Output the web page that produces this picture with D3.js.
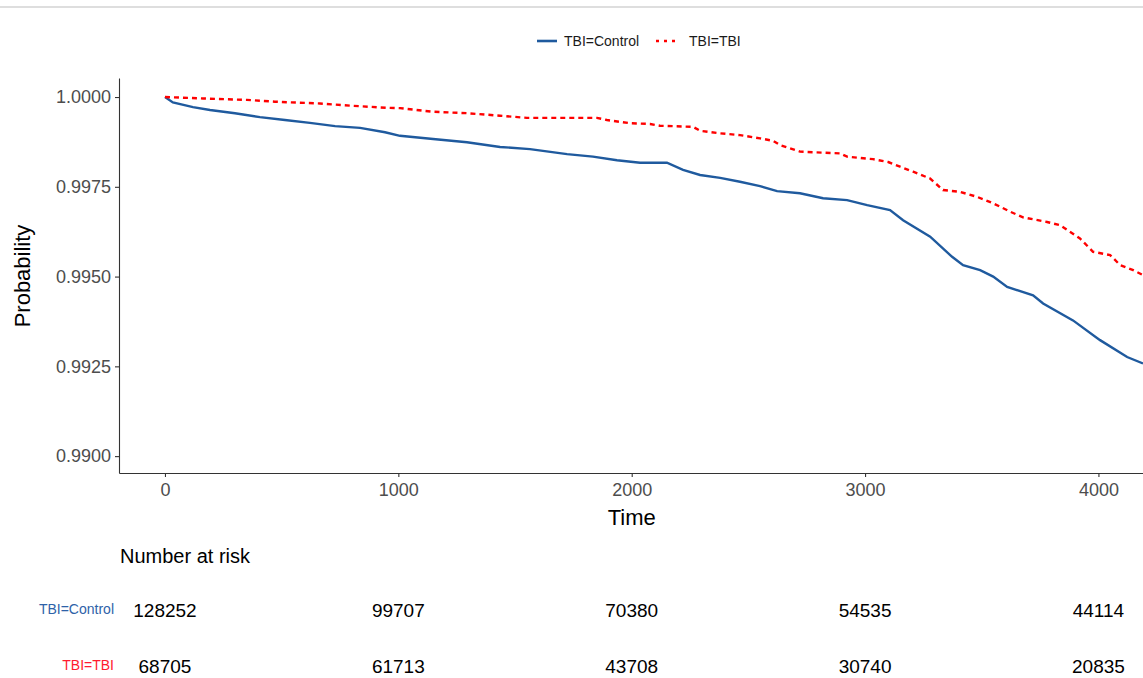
<!DOCTYPE html>
<html>
<head>
<meta charset="utf-8">
<script src="https://cdn.jsdelivr.net/npm/d3@7"></script>
<style>
  body { margin: 0; background: #fff; overflow: hidden; }
  text { font-family: "Liberation Sans", Arial, sans-serif; }
</style>
</head>
<body>
<div id="km-plot"></div>
<script>
// survival curves (time in days, probability)
const timeControl = [0, 34, 120, 193, 300, 407, 514, 621, 729, 836, 943, 1007, 1149, 1294, 1436, 1564, 1723, 1834, 1937, 2036, 2151, 2220, 2293, 2379, 2464, 2550, 2623, 2721, 2820, 2923, 3009, 3107, 3163, 3279, 3373, 3420, 3493, 3549, 3609, 3720, 3763, 3891, 4007, 4123, 4191];
const probControl = [1.0000, 0.99985, 0.99972, 0.99964, 0.99955, 0.99944, 0.99936, 0.99928, 0.99919, 0.99914, 0.99902, 0.99892, 0.99883, 0.99874, 0.99861, 0.99855, 0.99841, 0.99834, 0.99824, 0.99817, 0.99817, 0.99797, 0.99783, 0.99775, 0.99764, 0.99752, 0.99738, 0.99732, 0.99718, 0.99713, 0.99699, 0.99685, 0.99657, 0.99611, 0.99555, 0.99532, 0.99518, 0.99500, 0.99471, 0.99448, 0.99425, 0.99378, 0.99323, 0.99276, 0.99258];

const timeTBI = [0, 163, 351, 471, 664, 793, 951, 1007, 1149, 1294, 1436, 1551, 1851, 1894, 1993, 2079, 2121, 2263, 2293, 2379, 2464, 2550, 2606, 2636, 2721, 2893, 2923, 3034, 3099, 3150, 3206, 3279, 3334, 3407, 3480, 3549, 3621, 3677, 3780, 3836, 3921, 3977, 4050, 4093, 4149, 4191];
const probTBI = [1.0000, 0.99996, 0.99992, 0.99987, 0.99982, 0.99976, 0.99970, 0.99969, 0.99959, 0.99955, 0.99948, 0.99942, 0.99942, 0.99936, 0.99927, 0.99925, 0.99920, 0.99917, 0.99906, 0.99899, 0.99894, 0.99885, 0.99878, 0.99866, 0.99848, 0.99843, 0.99834, 0.99827, 0.99819, 0.99806, 0.99792, 0.99773, 0.99741, 0.99736, 0.99722, 0.99704, 0.99681, 0.99665, 0.99652, 0.99643, 0.99606, 0.99569, 0.99560, 0.99532, 0.99518, 0.99504];

const groups = ["TBI=Control", "TBI=TBI"];
const xTicks = [0, 1000, 2000, 3000, 4000];
const yTicks = [0.9900, 0.9925, 0.9950, 0.9975, 1.0000];

// number at risk table
const riskTimes = [0, 1000, 2000, 3000, 4000];
const riskControl = [128252, 99707, 70380, 54535, 44114];
const riskTBI = [68705, 61713, 43708, 30740, 20835];

const width = 1143, height = 678;
const blue = "#1f5a9e", red = "#ff0000";

const svg = d3.select("#km-plot")
  .append("svg")
  .attr("width", width)
  .attr("height", height);

// thin grey rule along the top
svg.append("line")
  .attr("x1", 0).attr("x2", width)
  .attr("y1", 7).attr("y2", 7)
  .attr("stroke", "#bdbdbd")
  .attr("stroke-width", 1);

const xScale = d3.scaleLinear()
  .domain([-197, 4191])
  .range([119, 1143]);

const yScale = d3.scaleLinear()
  .domain([0.98953, 1.00053])
  .range([473, 78]);

// Add X axis
const xAxis = svg.append("g")
  .attr("transform", "translate(0,473)")
  .call(d3.axisBottom(xScale).tickValues(xTicks).tickFormat(d3.format("d")).tickSize(4).tickPadding(6).tickSizeOuter(0));
xAxis.select(".domain").attr("stroke", "#333").attr("stroke-width", 1.1);
xAxis.selectAll(".tick line").attr("stroke", "#333").attr("stroke-width", 1.1);
xAxis.selectAll("text").style("font-size", "18px").style("fill", "#4d4d4d");

// Add Y axis
const yAxis = svg.append("g")
  .attr("transform", "translate(119,0)")
  .call(d3.axisLeft(yScale).tickValues(yTicks).tickFormat(d3.format(".4f")).tickSize(4).tickPadding(4).tickSizeOuter(0));
yAxis.select(".domain").attr("stroke", "#333").attr("stroke-width", 1.1);
yAxis.selectAll(".tick line").attr("stroke", "#333").attr("stroke-width", 1.1);
yAxis.selectAll("text").style("font-size", "18px").style("fill", "#4d4d4d");

svg.append("text")
  .attr("x", xScale(2000))
  .attr("y", 525)
  .style("text-anchor", "middle")
  .style("font-size", "22px")
  .style("fill", "#000")
  .text("Time");

svg.append("text")
  .attr("transform", "translate(30,276) rotate(-90)")
  .style("text-anchor", "middle")
  .style("font-size", "22px")
  .style("fill", "#000")
  .text("Probability");

// Curves (points are sampled along a fine staircase, so join them straight)
const line = d3.line()
  .x(d => xScale(d[0]))
  .y(d => yScale(d[1]));

const clip = svg.append("defs").append("clipPath").attr("id", "plot-clip");
clip.append("rect").attr("x", 119).attr("y", 60).attr("width", width - 119).attr("height", 413);

const curves = svg.append("g").attr("clip-path", "url(#plot-clip)");

curves.append("path")
  .datum(d3.zip(timeControl, probControl))
  .attr("fill", "none")
  .attr("stroke", blue)
  .attr("stroke-width", 2.4)
  .attr("d", line);

curves.append("path")
  .datum(d3.zip(timeTBI, probTBI))
  .attr("fill", "none")
  .attr("stroke", red)
  .attr("stroke-width", 2.4)
  .attr("stroke-dasharray", "5,4")
  .attr("d", line);

// Legend
const legend = svg.append("g").attr("transform", "translate(537,41)");
legend.append("line")
  .attr("x1", 0).attr("x2", 20).attr("y1", 0).attr("y2", 0)
  .attr("stroke", blue).attr("stroke-width", 2.6);
legend.append("text")
  .attr("x", 27).attr("y", 5)
  .style("font-size", "14px").style("fill", "#1a1a1a")
  .text(groups[0]);
legend.append("line")
  .attr("x1", 119).attr("x2", 139).attr("y1", 0).attr("y2", 0)
  .attr("stroke", red).attr("stroke-width", 2.6)
  .attr("stroke-dasharray", "3,5");
legend.append("text")
  .attr("x", 152).attr("y", 5)
  .style("font-size", "14px").style("fill", "#1a1a1a")
  .text(groups[1]);

// Number at risk table
svg.append("text")
  .attr("x", 120)
  .attr("y", 563)
  .style("font-size", "20px")
  .style("fill", "#000")
  .text("Number at risk");

const rows = [
  {name: groups[0], values: riskControl, color: "#2e62a8", y: 617},
  {name: groups[1], values: riskTBI, color: "#ff1a2e", y: 673}
];

rows.forEach(r => {
  svg.append("text")
    .attr("x", 114)
    .attr("y", r.y - 3)
    .style("text-anchor", "end")
    .style("font-size", "14px")
    .style("fill", r.color)
    .text(r.name);

  svg.append("g").selectAll("text")
    .data(r.values)
    .enter()
    .append("text")
    .attr("x", (d, i) => xScale(riskTimes[i]))
    .attr("y", r.y)
    .style("text-anchor", "middle")
    .style("font-size", "19px")
    .style("fill", "#000")
    .text(d => d);
});
</script>
</body>
</html>
